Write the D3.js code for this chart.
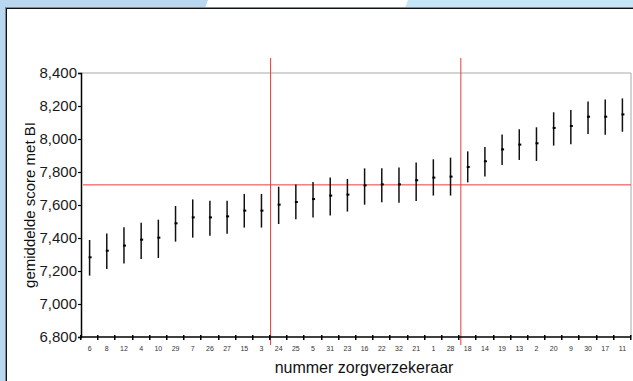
<!DOCTYPE html>
<html lang="nl">
<head>
<meta charset="utf-8">
<title>gemiddelde score met BI per zorgverzekeraar</title>
<script src="https://cdn.jsdelivr.net/npm/d3@7"></script>
<style>
  body { margin: 0; background: #fff; }
  svg { display: block; font-family: Arial, "Liberation Sans", Helvetica, sans-serif; }
</style>
</head>
<body>
<script>
// insurer numbers, in the order shown on the x axis
var insurers = ["6","8","12","4","10","29","7","26","27","15","3",
                "24","25","5","31","23","16","22","32","21","1","28",
                "18","14","19","13","2","20","9","30","17","11"];

// mean score and the ends of the interval for every insurer
var means = [7283,7323,7354,7390,7402,7489,7525,7525,7531,7566,7566,
             7602,7618,7636,7657,7663,7719,7725,7725,7750,7766,7772,
             7830,7865,7937,7966,7974,8067,8079,8135,8135,8149];
var upper = [7388,7428,7465,7493,7511,7594,7634,7626,7626,7667,7667,
             7711,7725,7739,7766,7758,7822,7822,7828,7857,7877,7887,
             7925,7952,8028,8059,8071,8162,8176,8228,8240,8246];
var lower = [7172,7212,7245,7273,7279,7378,7402,7414,7426,7463,7463,
             7485,7513,7525,7537,7560,7602,7616,7614,7624,7657,7657,
             7737,7772,7842,7873,7867,7960,7968,8030,8026,8044];

var yTicks = [6800,7000,7200,7400,7600,7800,8000,8200,8400];
var overallMean = 7722;      // red horizontal line
var groupCuts = [11.03, 22.1]; // red vertical lines, in category units

var W = 633, H = 381;
var plot = {left: 81, right: 631, top: 73, bottom: 337};

var svg = d3.select("body").append("svg")
    .attr("width", W)
    .attr("height", H);

// page background: blue strips with the white slanted piece at the top
svg.append("rect").attr("x", 0).attr("y", 0).attr("width", W).attr("height", H).attr("fill", "#fff");
svg.append("polygon").attr("points", "0,0 208,0 205,8 0,8").attr("fill", "#b9d7ef");
svg.append("polygon").attr("points", "408,0 633,0 633,8 405,8").attr("fill", "#c4e6f7");
svg.append("rect").attr("x", 0).attr("y", 0).attr("width", 5).attr("height", H).attr("fill", "#b9d7ef");
// frame of the chart panel
svg.append("line").attr("x1", 5).attr("y1", 7.5).attr("x2", W).attr("y2", 7.5).attr("stroke", "#7a8a96");
svg.append("line").attr("x1", 5.5).attr("y1", 7).attr("x2", 5.5).attr("y2", H).attr("stroke", "#7a8a96");
svg.append("line").attr("x1", 6).attr("y1", 8.5).attr("x2", W).attr("y2", 8.5).attr("stroke", "#111");
svg.append("line").attr("x1", 6.5).attr("y1", 8).attr("x2", 6.5).attr("y2", H).attr("stroke", "#111");

// scales
var x = d3.scaleLinear().domain([0, insurers.length]).range([plot.left, plot.right]);
var y = d3.scaleLinear().domain([6800, 8400]).range([plot.bottom, plot.top]);

// grey box at top and right
svg.append("line").attr("x1", plot.left).attr("y1", plot.top).attr("x2", plot.right).attr("y2", plot.top)
    .attr("stroke", "#a8a8a8").attr("stroke-width", 1);
svg.append("line").attr("x1", plot.right).attr("y1", plot.top).attr("x2", plot.right).attr("y2", plot.bottom)
    .attr("stroke", "#a8a8a8").attr("stroke-width", 1);

// reference lines
svg.append("line")
    .attr("x1", plot.left + 2).attr("x2", plot.right)
    .attr("y1", y(overallMean)).attr("y2", y(overallMean))
    .attr("stroke", "#ee3b3b").attr("stroke-width", 1);
svg.selectAll(".cut")
    .data(groupCuts)
    .enter()
    .append("line")
    .attr("class", "cut")
    .attr("x1", function(d){ return x(d); })
    .attr("x2", function(d){ return x(d); })
    .attr("y1", 58).attr("y2", plot.bottom + 8)
    .attr("stroke", "#ee3b3b").attr("stroke-width", 1);

// error bars
var bars = svg.selectAll(".bar")
    .data(insurers)
    .enter()
    .append("g")
    .attr("class", "bar");
bars.append("line")
    .attr("x1", function(d,i){ return x(i + 0.5); })
    .attr("x2", function(d,i){ return x(i + 0.5); })
    .attr("y1", function(d,i){ return y(upper[i]); })
    .attr("y2", function(d,i){ return y(lower[i]); })
    .attr("stroke", "#111")
    .attr("stroke-width", 1.5);
bars.append("rect")
    .attr("x", function(d,i){ return x(i + 0.5) - 1; })
    .attr("y", function(d,i){ return y(means[i]) - 1; })
    .attr("width", 3)
    .attr("height", 2)
    .attr("fill", "#000");

// y axis
var yAxis = svg.append("g")
    .attr("transform", "translate(" + plot.left + ",0)")
    .call(d3.axisLeft(y).tickValues(yTicks).tickFormat(d3.format(",")).tickSize(3).tickPadding(1));
yAxis.select(".domain").attr("stroke", "#000").attr("stroke-width", 1.5);
yAxis.selectAll(".tick line").attr("stroke", "#000").attr("stroke-width", 1.2);
yAxis.selectAll("text")
    .attr("font-size", 15)
    .attr("fill", "#1a1a1a")
    .attr("font-family", "Arial, 'Liberation Sans', sans-serif");

// x axis line
svg.append("line")
    .attr("x1", plot.left).attr("x2", plot.right)
    .attr("y1", plot.bottom).attr("y2", plot.bottom)
    .attr("stroke", "#000").attr("stroke-width", 1.5);

// x ticks on the category boundaries
svg.selectAll(".xtick")
    .data(d3.range(0, insurers.length + 1))
    .enter()
    .append("rect")
    .attr("class", "xtick")
    .attr("x", function(d){ return Math.round(x(d)) - 1; })
    .attr("y", plot.bottom - 2)
    .attr("width", 1.5)
    .attr("height", 5)
    .attr("fill", "#000");

// category labels in the middle of each slot
svg.selectAll(".xlab")
    .data(insurers)
    .enter()
    .append("text")
    .attr("class", "xlab")
    .attr("x", function(d,i){ return x(i + 0.5); })
    .attr("y", plot.bottom + 14)
    .attr("text-anchor", "middle")
    .attr("font-size", 7)
    .attr("fill", "#333")
    .text(function(d){ return d; });

// axis titles
svg.append("text")
    .attr("x", (plot.left + plot.right) / 2 + 8)
    .attr("y", 373)
    .attr("text-anchor", "middle")
    .attr("font-size", 16)
    .attr("fill", "#111")
    .text("nummer zorgverzekeraar");

svg.append("text")
    .attr("transform", "translate(35," + (plot.top + plot.bottom) / 2 + ") rotate(-90)")
    .attr("text-anchor", "middle")
    .attr("font-size", 15)
    .attr("fill", "#111")
    .text("gemiddelde score met BI");
</script>
</body>
</html>
